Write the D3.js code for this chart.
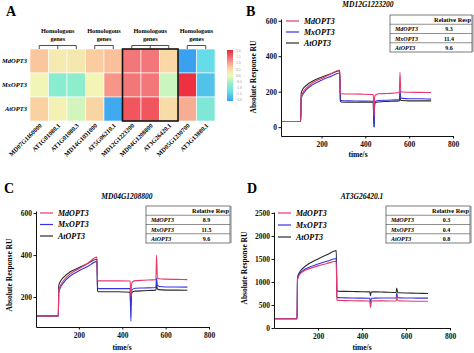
<!DOCTYPE html>
<html>
<head>
<meta charset="utf-8">
<script src="https://cdn.jsdelivr.net/npm/d3@7"></script>
<style>
body{margin:0;background:#fff}
svg{display:block}
</style>
</head>
<body>
<script>
// ---- data ----
const rows = ["MdOPT3", "MxOPT3", "AtOPT3"];
const genes = ["MD07G1160000", "AT1G01080.1", "AT1G01080.3", "MD14G1031000", "AT5G06210.1",
               "MD12G1223200", "MD04G1208800", "AT3G26420.1", "MD05G1230700", "AT3G13880.1"];
const heatMd = [0.7, 0.2, 0.25, 0.65, 0.75, 1.35, 1.35, 0.5, -2.0, -1.3];
const heatMx = [0.05, -0.75, -0.7, 0.05, 1.1, 1.35, 1.35, -0.25, 1.9, -1.6];
const heatAt = [0.6, 0.1, -0.2, 0.55, -1.9, 1.6, 1.6, 0.45, 0.9, -0.9];
const geneGroups = [[0, 2], [3, 4], [5, 7], [8, 9]];
const colorTicks = [2.0, 1.5, 1.0, 0.5, 0.0, -0.5, -1.0, -1.5, -2.0];

const times = [0, 105, 107, 115, 130, 160, 200, 240, 283, 286, 290, 320, 380, 436, 438, 440, 442, 445, 460, 500, 555, 558, 562, 570, 600, 650, 700];

const bMd = [32,32,165,195,220,250,275,298,322,190,188,187,186,184,130,60,165,180,188,190,195,310,200,198,197,196,195];
const bMx = [32,32,160,185,210,240,265,285,305,155,150,148,147,146,60,0,120,145,150,152,155,210,165,162,160,160,158];
const bAt = [32,32,190,215,235,260,282,300,318,145,142,140,140,140,50,0,120,138,142,145,148,170,150,150,148,148,148];

const cMd = [110,110,230,255,280,310,335,360,390,280,277,277,277,276,240,200,250,270,278,280,283,400,290,287,285,284,283];
const cMx = [110,110,220,245,270,300,325,345,370,245,240,240,240,240,150,85,200,235,242,243,245,290,255,250,248,248,247];
const cAt = [110,110,255,275,295,320,340,360,380,230,225,225,225,223,180,160,210,222,228,230,233,260,238,235,233,233,232];

const dMd = [200,200,1050,1150,1220,1290,1350,1400,1450,620,600,595,590,585,450,480,570,585,590,590,585,680,600,590,585,582,580];
const dMx = [200,200,1080,1170,1240,1320,1390,1450,1510,680,660,655,650,645,520,560,630,645,650,652,655,760,665,655,652,650,650];
const dAt = [200,200,1100,1200,1290,1400,1500,1590,1680,820,800,795,790,785,700,740,780,785,785,780,770,870,770,765,760,755,750];

const tableB = ["9.3", "11.4", "9.6"];
const tableC = ["8.9", "11.5", "9.6"];
const tableD = ["0.3", "0.4", "0.8"];

const xTicks = [200, 400, 600, 800];
const yTicksB = [0, 200, 400, 600];
const yTicksC = [200, 400, 600];
const yTicksD = [0, 500, 1000, 1500, 2000, 2500];

// ---- style ----
const serif = "'Liberation Serif','Times New Roman',serif";
const lineColors = ["#e8386c", "#3434e0", "#2a2a2a"];

const svg = d3.select("body").append("svg")
    .attr("width", 474)
    .attr("height", 353)
    .style("font-family", serif);

// ---- panel A: heatmap ----
const heatColor = d3.scaleLinear()
    .domain([-2, -1.3, -0.6, 0, 0.6, 1.3, 2])
    .range(["#3aa0f0", "#66dce8", "#94f0c8", "#f2f8b8", "#fad2a2", "#f47c7e", "#ec2436"]);

const hx = d3.scaleBand().domain(genes).range([30, 215]);
const hy = d3.scaleBand().domain(rows).range([49, 121]);
const bw = hx.bandwidth();

svg.append("text").attr("x", 6).attr("y", 16)
    .attr("font-size", 14).attr("font-weight", "bold").text("A");

const heat = svg.append("g");
[heatMd, heatMx, heatAt].forEach(function(vals, ri){
    heat.append("g").selectAll("rect")
	.data(vals)
	.join("rect")
	.attr("x", function(d,i){return hx(genes[i]);})
	.attr("y", hy(rows[ri]))
	.attr("width", bw)
	.attr("height", hy.bandwidth())
	.attr("fill", function(d){return heatColor(d);})
	.attr("stroke", "#fff")
	.attr("stroke-width", 0.6);
});

// box round the three genes tested in B-D
heat.append("rect")
    .attr("x", hx(genes[5]))
    .attr("y", 49)
    .attr("width", hx(genes[7]) + bw - hx(genes[5]))
    .attr("height", 72)
    .attr("fill", "none")
    .attr("stroke", "#111")
    .attr("stroke-width", 1.6);

heat.selectAll("text.row")
    .data(rows)
    .join("text")
    .attr("class", "row")
    .attr("x", 27)
    .attr("y", function(d){return hy(d) + hy.bandwidth() / 2 + 2;})
    .attr("text-anchor", "end")
    .attr("font-size", 6.5)
    .attr("font-weight", "bold")
    .attr("font-style", "italic")
    .text(function(d){return d;});

heat.selectAll("text.col")
    .data(genes)
    .join("text")
    .attr("class", "col")
    .attr("transform", function(d){return "translate(" + (hx(d) + bw / 2 + 3) + ",126) rotate(-45)";})
    .attr("text-anchor", "end")
    .attr("font-size", 6.3)
    .attr("font-weight", "bold")
    .text(function(d){return d;});

// brackets
geneGroups.forEach(function(g){
    var c0 = hx(genes[g[0]]) + bw / 2, c1 = hx(genes[g[1]]) + bw / 2;
    var br = heat.append("g").attr("stroke", "#222").attr("stroke-width", 0.8);
    br.append("line").attr("x1", c0).attr("x2", c1).attr("y1", 45.5).attr("y2", 45.5);
    d3.range(g[0], g[1] + 1).forEach(function(i){
	br.append("line")
	    .attr("x1", hx(genes[i]) + bw / 2).attr("x2", hx(genes[i]) + bw / 2)
	    .attr("y1", 45.5).attr("y2", 49);
    });
    heat.append("text").attr("x", (c0 + c1) / 2).attr("y", 33)
	.attr("text-anchor", "middle").attr("font-size", 6.3).attr("font-weight", "bold")
	.text("Homologous");
    heat.append("text").attr("x", (c0 + c1) / 2).attr("y", 41)
	.attr("text-anchor", "middle").attr("font-size", 6.3).attr("font-weight", "bold")
	.text("genes");
});

// colour bar
const grad = svg.append("defs").append("linearGradient")
    .attr("id", "cbar").attr("x1", 0).attr("x2", 0).attr("y1", 0).attr("y2", 1);
heatColor.domain().slice().reverse().forEach(function(v){
    grad.append("stop")
	.attr("offset", (2 - v) / 4)
	.attr("stop-color", heatColor(v));
});
const cy = d3.scaleLinear().domain([2, -2]).range([51, 100]);
svg.append("rect").attr("x", 227).attr("y", 50).attr("width", 6).attr("height", 51)
    .attr("fill", "url(#cbar)");
svg.append("g").selectAll("text")
    .data(colorTicks)
    .join("text")
    .attr("x", 236)
    .attr("y", function(d){return cy(d) + 1.2;})
    .attr("font-size", 3.6)
    .attr("fill", "#888")
    .text(function(d){return d.toFixed(1);});

// ---- panels B, C, D: response curves ----
function drawPanel(p){
    var g = svg.append("g");
    var x = d3.scaleLinear().domain(p.xDom).range(p.xRange).clamp(true);
    var y = d3.scaleLinear().domain(p.yDom).range(p.yRange);

    g.append("text").attr("x", p.letter[1]).attr("y", p.letter[2])
	.attr("font-size", 14).attr("font-weight", "bold").text(p.letter[0]);
    g.append("text").attr("x", p.title[1]).attr("y", p.title[2])
	.attr("text-anchor", "middle").attr("font-size", 7.5)
	.attr("font-weight", "bold").attr("font-style", "italic").text(p.title[0]);

    var line = d3.line()
	.x(function(d,i){return x(times[i]);})
	.y(function(d){return y(d);})
	.curve(d3.curveMonotoneX);

    [2, 1, 0].forEach(function(k){
	g.append("path")
	    .attr("d", line(p.series[k]))
	    .attr("fill", "none")
	    .attr("stroke", lineColors[k])
	    .attr("stroke-width", 1.1);
    });

    var xa = g.append("g")
	.attr("transform", "translate(0," + p.yRange[0] + ")")
	.call(d3.axisBottom(x).tickValues(xTicks).tickSize(2.5).tickSizeOuter(0));
    var ya = g.append("g")
	.attr("transform", "translate(" + p.xRange[0] + ",0)")
	.call(d3.axisLeft(y).tickValues(p.yTicks).tickFormat(d3.format("d"))
	      .tickSize(2.5).tickSizeOuter(0));
    [xa, ya].forEach(function(a){
	a.selectAll("text").attr("font-family", serif).attr("font-size", 7.5)
	    .attr("font-weight", "bold").attr("fill", "#111");
	a.selectAll("path,line").attr("stroke", "#111");
    });
    ya.selectAll("text").attr("x", -4);

    g.append("text")
	.attr("transform", "translate(" + p.yLab[0] + "," + p.yLab[1] + ") rotate(-90)")
	.attr("text-anchor", "middle").attr("font-size", 7.5).attr("font-weight", "bold")
	.text("Absolute Response RU");
    g.append("text").attr("x", p.xLab[0]).attr("y", p.xLab[1])
	.attr("text-anchor", "middle").attr("font-size", 7.5).attr("font-weight", "bold")
	.text("time/s");

    // legend
    rows.forEach(function(r, k){
	var ly = p.legend[1] + k * p.legend[2];
	g.append("line").attr("x1", p.legend[0]).attr("x2", p.legend[0] + 13)
	    .attr("y1", ly).attr("y2", ly)
	    .attr("stroke", lineColors[k]).attr("stroke-width", 1.2);
	g.append("text").attr("x", p.legend[0] + 18).attr("y", ly + 2.7)
	    .attr("font-size", 8).attr("font-weight", "bold").attr("font-style", "italic")
	    .text(r);
    });

    // table
    var t = p.table, rh = t.h / 4;
    var tg = g.append("g");
    tg.append("rect").attr("x", t.x).attr("y", t.y).attr("width", t.w).attr("height", t.h)
	.attr("fill", "#fff").attr("stroke", "#444").attr("stroke-width", 0.7);
    tg.append("line").attr("x1", t.x + t.w + 0.8).attr("x2", t.x + t.w + 0.8)
	.attr("y1", t.y).attr("y2", t.y + t.h)
	.attr("stroke", "#999").attr("stroke-width", 1.6);
    d3.range(1, 4).forEach(function(i){
	tg.append("line").attr("x1", t.x).attr("x2", t.x + t.w)
	    .attr("y1", t.y + i * rh).attr("y2", t.y + i * rh)
	    .attr("stroke", "#444").attr("stroke-width", 0.6);
    });
    tg.append("text").attr("x", t.x + t.w - 1).attr("y", t.y + rh - 2)
	.attr("text-anchor", "end").attr("font-size", 6.3).attr("font-weight", "bold")
	.text("Relative Resp");
    rows.forEach(function(r, k){
	var ty = t.y + (k + 2) * rh - 2.2;
	tg.append("text").attr("x", t.x + 5).attr("y", ty)
	    .attr("font-size", 6).attr("font-weight", "bold").attr("font-style", "italic")
	    .text(r);
	tg.append("text").attr("x", t.x + t.w * 0.72).attr("y", ty)
	    .attr("text-anchor", "middle").attr("font-size", 6).attr("font-weight", "bold")
	    .text(p.values[k]);
    });
}

drawPanel({
    letter: ["B", 246, 16], title: ["MD12G1223200", 368, 7],
    xDom: [15, 800], xRange: [281, 453],
    yDom: [-50, 610], yRange: [136, 19], yTicks: yTicksB,
    series: [bMd, bMx, bAt], values: tableB,
    yLab: [256, 77], xLab: [358, 157],
    legend: [286, 21, 11],
    table: {x: 390, y: 15, w: 82, h: 37}
});

drawPanel({
    letter: ["C", 4, 193], title: ["MD04G1208800", 127, 199],
    xDom: [2, 800], xRange: [36, 209],
    yDom: [57, 610], yRange: [327, 211], yTicks: yTicksC,
    series: [cMd, cMx, cAt], values: tableC,
    yLab: [12, 275], xLab: [122, 350],
    legend: [40, 213, 11.5],
    table: {x: 146, y: 206, w: 84, h: 37}
});

drawPanel({
    letter: ["D", 247, 193], title: ["AT3G26420.1", 362, 199],
    xDom: [0, 800], xRange: [274, 450],
    yDom: [0, 2520], yRange: [328, 212], yTicks: yTicksD,
    series: [dMd, dMx, dAt], values: tableD,
    yLab: [247, 268], xLab: [362, 350],
    legend: [278, 213, 12],
    table: {x: 386, y: 206, w: 84, h: 37}
});
</script>
</body>
</html>
